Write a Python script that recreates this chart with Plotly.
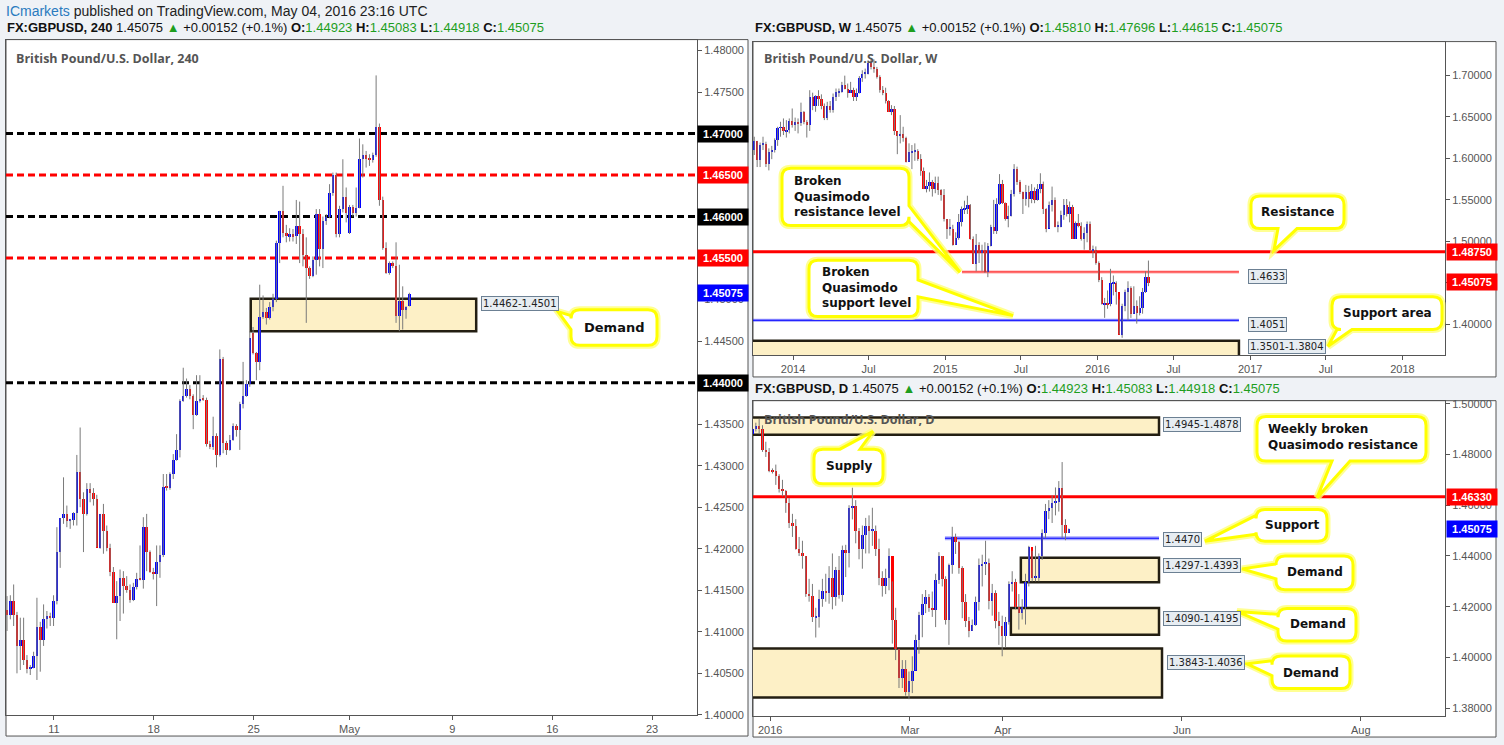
import pandas as pd
import plotly.graph_objects as go

W, H = 1504, 745
def px(x): return x / W
def py(y): return 1 - y / H

# ---------------- 4H data ----------------
h4_open = [1.4127,1.4121,1.4137,1.4121,1.4083,1.4091,1.4067,1.4056,1.4057,1.4071,
           1.4106,1.4091,1.4116,1.4120,1.4117,1.4138,1.4197,1.4237,1.4242,1.4234,
           1.4235,1.4243,1.4293,1.4261,1.4242,1.4273,1.4268,1.4260,1.4202,1.4242,
           1.4222,1.4202,1.4173,1.4135,1.4144,1.4165,1.4156,1.4151,1.4139,1.4154,
           1.4164,1.4163,1.4227,1.4196,1.4173,1.4170,1.4185,1.4193,1.4275,1.4274,
           1.4290,1.4307,1.4319,1.4379,1.4384,1.4393,1.4384,1.4362,1.4379,1.4381,
           1.4380,1.4327,1.4323,1.4336,1.4313,1.4429,1.4328,1.4319,1.4332,1.4348,
           1.4343,1.4375,1.4385,1.4399,1.4460,1.4436,1.4425,1.4479,1.4485,1.4478,
           1.4491,1.4501,1.4569,1.4607,1.4581,1.4577,1.4579,1.4577,1.4589,1.4579,
           1.4554,1.4539,1.4529,1.4548,1.4604,1.4562,1.4595,1.4600,1.4629,1.4650,
           1.4579,1.4610,1.4624,1.4581,1.4612,1.4605,1.4611,1.4670,1.4675,1.4670,
           1.4669,1.4675,1.4708,1.4621,1.4563,1.4533,1.4544,1.4541,1.4481,1.4499,
           1.4488,1.44923]
h4_high = [1.4143,1.4144,1.4157,1.4124,1.4117,1.4117,1.4072,1.4060,1.4076,1.4141,
           1.4112,1.4133,1.4125,1.4123,1.4144,1.4226,1.4237,1.4286,1.4252,1.4236,
           1.4244,1.4313,1.4346,1.4268,1.4279,1.4279,1.4273,1.4265,1.4242,1.4254,
           1.4228,1.4206,1.4178,1.4161,1.4175,1.4173,1.4167,1.4157,1.4159,1.4171,
           1.4204,1.4238,1.4242,1.4198,1.4177,1.4204,1.4204,1.4290,1.4290,1.4292,
           1.4314,1.4338,1.4380,1.4418,1.4405,1.4397,1.4386,1.4409,1.4409,1.4385,
           1.4382,1.4330,1.4359,1.4339,1.4440,1.4431,1.4330,1.4337,1.4351,1.4350,
           1.4377,1.4425,1.4403,1.4462,1.4467,1.4437,1.4518,1.4505,1.4490,1.4497,
           1.4507,1.4571,1.4607,1.4637,1.4590,1.4586,1.4585,1.4620,1.4618,1.4585,
           1.4575,1.4540,1.4552,1.4609,1.4609,1.4600,1.4603,1.4639,1.4653,1.4653,
           1.4613,1.4669,1.4635,1.4614,1.4614,1.4635,1.4694,1.4687,1.4679,1.4675,
           1.4677,1.4770,1.4712,1.4624,1.4569,1.4546,1.4546,1.4569,1.4542,1.4516,
           1.4492,1.45083]
h4_low = [1.4101,1.4115,1.4107,1.4050,1.4054,1.4060,1.4050,1.4048,1.4056,1.4042,
          1.4052,1.4083,1.4104,1.4107,1.4107,1.4133,1.4177,1.4230,1.4226,1.4224,
          1.4228,1.4228,1.4250,1.4196,1.4240,1.4256,1.4252,1.4202,1.4200,1.4194,
          1.4197,1.4167,1.4135,1.4091,1.4113,1.4122,1.4147,1.4135,1.4137,1.4151,
          1.4162,1.4152,1.4173,1.4171,1.4163,1.4131,1.4165,1.4190,1.4270,1.4271,
          1.4284,1.4306,1.4310,1.4377,1.4382,1.4380,1.4344,1.4360,1.4376,1.4378,
          1.4323,1.4320,1.4319,1.4298,1.4311,1.4315,1.4313,1.4318,1.4330,1.4335,
          1.4319,1.4369,1.4383,1.4395,1.4434,1.4403,1.4415,1.4477,1.4470,1.4476,
          1.4486,1.4497,1.4544,1.4575,1.4569,1.4570,1.4570,1.4567,1.4544,1.4540,
          1.4472,1.4525,1.4527,1.4530,1.4540,1.4538,1.4590,1.4598,1.4625,1.4575,
          1.4575,1.4605,1.4593,1.4579,1.4600,1.4600,1.4610,1.4647,1.4659,1.4661,
          1.4665,1.4672,1.4613,1.4560,1.4531,1.4530,1.4538,1.4472,1.4462,1.4464,
          1.4477,1.44918]
h4_close = [1.4121,1.4137,1.4121,1.4083,1.4091,1.4067,1.4056,1.4057,1.4071,1.4106,
            1.4091,1.4116,1.4120,1.4117,1.4138,1.4197,1.4237,1.4242,1.4234,1.4235,
            1.4243,1.4293,1.4261,1.4242,1.4273,1.4268,1.4260,1.4202,1.4242,1.4222,
            1.4202,1.4173,1.4135,1.4144,1.4165,1.4156,1.4151,1.4139,1.4154,1.4164,
            1.4163,1.4227,1.4196,1.4173,1.4170,1.4185,1.4193,1.4275,1.4274,1.4290,
            1.4307,1.4319,1.4379,1.4384,1.4393,1.4384,1.4362,1.4379,1.4380,1.4380,
            1.4327,1.4323,1.4336,1.4313,1.4429,1.4328,1.4319,1.4332,1.4348,1.4343,
            1.4375,1.4385,1.4399,1.4454,1.4436,1.4425,1.4479,1.4485,1.4478,1.4491,
            1.4501,1.4569,1.4607,1.4581,1.4577,1.4579,1.4577,1.4589,1.4579,1.4554,
            1.4539,1.4529,1.4548,1.4604,1.4562,1.4595,1.4600,1.4629,1.4650,1.4579,
            1.4610,1.4624,1.4605,1.4612,1.4605,1.4611,1.4670,1.4675,1.4670,1.4669,
            1.4675,1.4708,1.4621,1.4563,1.4533,1.4544,1.4541,1.4481,1.4499,1.4488,
            1.4492,1.45075]
h4_ticktext = ["11", "18", "25", "May", "9", "16", "23"]
h4_tickpos = [14.1, 44.1, 74.2, 103.0, 133.9, 164.0, 194.0]

# ---------------- Weekly data ----------------
wk_start = "2013-09-30"
wk_first_open = 1.6100
wk_close = [1.6210,1.5980,1.6170,1.6180,1.5940,1.6080,1.6110,1.6220,1.6370,1.6380,1.6330,1.6340,1.6450,1.6410,
            1.6440,1.6430,1.6560,1.6440,1.6410,1.6740,1.6640,1.6750,1.6720,1.6630,1.6490,1.6630,1.6590,
            1.6740,1.6800,1.6800,1.6890,1.6840,1.6790,1.6830,1.6740,1.6790,1.6970,1.7020,1.7020,1.7150,
            1.7110,1.7080,1.6980,1.6830,1.6790,1.6690,1.6560,1.6600,1.6330,1.6270,1.6300,1.6250,1.5960,
            1.6080,1.6090,1.6090,1.6000,1.5850,1.5640,1.5670,1.5720,1.5630,1.5710,1.5620,1.5560,1.5270,
            1.5160,1.5160,1.4960,1.5050,1.5240,1.5390,1.5400,1.5440,1.5040,1.4730,1.4960,1.4860,1.4900,
            1.4640,1.4950,1.5180,1.5130,1.5460,1.5700,1.5470,1.5280,1.5310,1.5570,1.5880,1.5720,1.5600,
            1.5510,1.5600,1.5510,1.5610,1.5500,1.5640,1.5700,1.5400,1.5150,1.5440,1.5500,1.5180,1.5180,
            1.5320,1.5440,1.5330,1.5420,1.5040,1.5230,1.5190,1.5030,1.5110,1.5210,1.4900,1.4900,1.4740,
            1.4540,1.4250,1.4260,1.4250,1.4500,1.4500,1.4400,1.3880,1.4230,1.4400,1.4450,1.4130,1.4230,
            1.4140,1.4200,1.4400,1.4581,1.45075]
wk_high = [1.6260,1.6210,1.6190,1.6260,1.6200,1.6120,1.6150,1.6240,1.6380,1.6440,1.6480,1.6460,1.6480,1.6600,
           1.6490,1.6480,1.6670,1.6570,1.6460,1.6820,1.6790,1.6760,1.6820,1.6770,1.6660,1.6680,1.6690,
           1.6780,1.6840,1.6840,1.6920,1.6995,1.6900,1.6920,1.6850,1.6840,1.6990,1.7060,1.7080,1.7180,
           1.7190,1.7190,1.7100,1.7000,1.6870,1.6850,1.6700,1.6640,1.6630,1.6320,1.6520,1.6380,1.6260,
           1.6180,1.6160,1.6180,1.6110,1.6050,1.5890,1.5740,1.5830,1.5740,1.5780,1.5780,1.5630,1.5630,
           1.5270,1.5270,1.5200,1.5110,1.5330,1.5420,1.5490,1.5550,1.5450,1.5060,1.5090,1.4990,1.4960,
           1.4990,1.4980,1.5200,1.5500,1.5520,1.5810,1.5740,1.5470,1.5430,1.5620,1.5930,1.5900,1.5740,
           1.5600,1.5680,1.5670,1.5690,1.5650,1.5690,1.5820,1.5720,1.5400,1.5480,1.5660,1.5530,1.5240,
           1.5370,1.5510,1.5510,1.5480,1.5440,1.5240,1.5330,1.5230,1.5170,1.5240,1.5240,1.4950,1.4940,
           1.4760,1.4570,1.4320,1.4410,1.4670,1.4590,1.4520,1.4300,1.4250,1.4420,1.4520,1.4460,1.4460,
           1.4290,1.4340,1.4440,1.4640,1.47696]
wk_low = [1.6040,1.5895,1.5895,1.6100,1.5895,1.5855,1.5990,1.6070,1.6150,1.6260,1.6280,1.6250,1.6300,1.6370,
          1.6330,1.6300,1.6390,1.6410,1.6250,1.6330,1.6580,1.6560,1.6630,1.6590,1.6460,1.6460,1.6550,
          1.6550,1.6690,1.6740,1.6790,1.6830,1.6730,1.6790,1.6690,1.6690,1.6780,1.6920,1.6960,1.7010,
          1.7070,1.7030,1.6960,1.6790,1.6760,1.6660,1.6560,1.6520,1.6280,1.6050,1.6180,1.6200,1.5950,
          1.5960,1.5870,1.5970,1.5970,1.5790,1.5630,1.5590,1.5600,1.5540,1.5580,1.5560,1.5490,1.5240,
          1.5030,1.5070,1.4950,1.4960,1.5020,1.5180,1.5330,1.5330,1.5020,1.4730,1.4640,1.4740,1.4640,
          1.4620,1.4570,1.4940,1.5090,1.5090,1.5440,1.5450,1.5250,1.5170,1.5300,1.5540,1.5680,1.5570,
          1.5330,1.5430,1.5410,1.5460,1.5460,1.5490,1.5580,1.5330,1.5110,1.5160,1.5360,1.5170,1.5110,
          1.5170,1.5260,1.5300,1.5230,1.5030,1.5030,1.5170,1.5010,1.4900,1.4990,1.4880,1.4800,1.4720,
          1.4510,1.4240,1.4080,1.4190,1.4220,1.4350,1.4240,1.3880,1.3840,1.4160,1.4050,1.4080,1.4130,
          1.4010,1.4110,1.4130,1.4380,1.44615]
wk_tickdates = ["2014-01-01", "2014-07-01", "2015-01-01", "2015-07-01", "2016-01-01",
                "2016-07-01", "2017-01-01", "2017-07-01", "2018-01-01"]
wk_ticktext = ["2014", "Jul", "2015", "Jul", "2016", "Jul", "2017", "Jul", "2018"]

# ---------------- Daily data ----------------
d_first_open = 1.4880
d_close = [1.4900,1.4912,1.4900,1.4820,1.4810,1.4737,1.4735,1.4717,1.4664,1.4659,
           1.4611,1.4530,1.4520,1.4430,1.4413,1.4400,1.4250,1.4245,1.4160,1.4160,
           1.4230,1.4265,1.4255,1.4315,1.4240,1.4345,1.4247,1.4425,1.4412,1.4590,
           1.4600,1.4500,1.4430,1.4484,1.4520,1.4500,1.4500,1.4430,1.4313,1.4285,
           1.4313,1.4400,1.4150,1.4033,1.3922,1.3957,1.3864,1.3909,1.3948,1.4072,
           1.4169,1.4214,1.4240,1.4195,1.4190,1.4305,1.4400,1.4310,1.4150,1.4365,
           1.4477,1.4455,1.4355,1.4220,1.4145,1.4105,1.4130,1.4220,1.4365,1.4370,
           1.4375,1.4225,1.4255,1.4145,1.4125,1.4085,1.4140,1.4290,1.4300,1.4200,
           1.4175,1.4200,1.4300,1.4435,1.4315,1.4315,1.4400,1.4490,1.4580,1.4590,
           1.4610,1.4615,1.4670,1.4525,1.44923,1.45075]
d_high = [1.4925,1.4925,1.4940,1.4915,1.4850,1.4825,1.4745,1.4760,1.4722,1.4700,
          1.4660,1.4628,1.4566,1.4545,1.4475,1.4460,1.4400,1.4310,1.4290,1.4196,
          1.4267,1.4310,1.4330,1.4360,1.4410,1.4357,1.4400,1.4441,1.4444,1.4600,
          1.4669,1.4620,1.4510,1.4520,1.4550,1.4560,1.4590,1.4520,1.4468,1.4340,
          1.4350,1.4430,1.4300,1.4196,1.4035,1.3990,1.3990,1.3945,1.4005,1.4090,
          1.4180,1.4250,1.4266,1.4250,1.4260,1.4330,1.4415,1.4400,1.4320,1.4370,
          1.4515,1.4488,1.4460,1.4360,1.4250,1.4160,1.4150,1.4240,1.4390,1.4405,
          1.4460,1.4390,1.4290,1.4265,1.4180,1.4165,1.4160,1.4300,1.4340,1.4310,
          1.4250,1.4230,1.4330,1.4440,1.4420,1.4440,1.4410,1.4505,1.4605,1.4620,
          1.4640,1.4670,1.4695,1.4770,1.4545,1.45083]
d_low = [1.4870,1.4890,1.4880,1.4810,1.4790,1.4730,1.4725,1.4680,1.4650,1.4635,
         1.4570,1.4510,1.4475,1.4425,1.4400,1.4350,1.4239,1.4220,1.4140,1.4079,
         1.4118,1.4200,1.4220,1.4212,1.4190,1.4204,1.4232,1.4220,1.4317,1.4355,
         1.4544,1.4450,1.4387,1.4350,1.4410,1.4410,1.4440,1.4400,1.4285,1.4240,
         1.4250,1.4265,1.4055,1.3990,1.3880,1.3880,1.3850,1.3836,1.3860,1.3950,
         1.4015,1.4080,1.4175,1.4180,1.4160,1.4120,1.4290,1.4280,1.4130,1.4050,
         1.4330,1.4408,1.4330,1.4155,1.4120,1.4080,1.4105,1.4125,1.4185,1.4280,
         1.4325,1.4190,1.4165,1.4115,1.4050,1.4005,1.4040,1.4130,1.4260,1.4190,
         1.4110,1.4150,1.4130,1.4280,1.4300,1.4300,1.4300,1.4385,1.4470,1.4545,
         1.4530,1.4560,1.4575,1.4470,1.4462,1.44918]
d_ticktext = ["2016", "Mar", "Apr", "Jun", "Aug"]
d_tickpos = [5.3, 47.3, 75.2, 129.0, 182.7]

BLUE = "#0000ff"
RED = "#ff0000"
WICK = "#7a7a7a"
GREEN = "#1e9e1e"
BG = "#eff2f6"


def candle_traces(xs, o, h, l, c, width, xa, ya, minh):
    wx, wy = [], []
    for x, hi, lo in zip(xs, h, l):
        wx += [x, x, None]
        wy += [lo, hi, None]
    colors = [BLUE if cc >= oo else RED for oo, cc in zip(o, c)]
    base = [min(oo, cc) for oo, cc in zip(o, c)]
    size = [max(abs(cc - oo), minh) for oo, cc in zip(o, c)]
    return [
        go.Scatter(x=wx, y=wy, mode="lines", line=dict(color=WICK, width=1),
                   xaxis=xa, yaxis=ya, hoverinfo="skip", showlegend=False),
        go.Bar(x=xs, y=size, base=base, width=width, marker=dict(color=colors, line=dict(width=0)),
               xaxis=xa, yaxis=ya, hoverinfo="skip", showlegend=False),
    ]


fig = go.Figure()

h4_x = list(range(len(h4_close)))
for t in candle_traces(h4_x, h4_open, h4_high, h4_low, h4_close, 0.75, "x", "y", 0.00012):
    fig.add_trace(t)

wk_dates = [d.strftime("%Y-%m-%d") for d in pd.date_range(wk_start, periods=len(wk_close), freq="7D")]
wk_open = [wk_first_open] + wk_close[:-1]
for t in candle_traces(wk_dates, wk_open, wk_high, wk_low, wk_close, 5.5 * 86400000, "x2", "y2", 0.0012):
    fig.add_trace(t)

d_x = list(range(len(d_close)))
d_open = [d_first_open] + d_close[:-1]
for t in candle_traces(d_x, d_open, d_high, d_low, d_close, 0.75, "x3", "y3", 0.0004):
    fig.add_trace(t)

AX = dict(showgrid=False, zeroline=False, showline=True, mirror=True, linecolor="#555555",
          linewidth=1, ticks="outside", ticklen=4, tickcolor="#555555",
          tickfont=dict(family="Arial, Liberation Sans", size=11, color="#555555"), fixedrange=True)

fig.update_layout(
    width=W, height=H, margin=dict(l=0, r=0, t=0, b=0),
    paper_bgcolor=BG, plot_bgcolor="white", showlegend=False, hovermode=False,
    bargap=0,
    xaxis=dict(AX, domain=[px(6), px(697)], range=[-0.3, 207.5], anchor="y",
               tickmode="array", tickvals=h4_tickpos, ticktext=h4_ticktext),
    yaxis=dict(AX, domain=[py(720), py(37)], range=[1.39995, 1.48131], anchor="x", side="right",
               dtick=0.005, tick0=1.4, tickformat=".5f"),
    xaxis2=dict(AX, domain=[px(753), px(1445)], range=["2013-09-27", "2018-04-13"], anchor="y2",
                type="date", tickmode="array", tickvals=wk_tickdates, ticktext=wk_ticktext),
    yaxis2=dict(AX, domain=[py(356), py(39)], range=[1.3631, 1.7405], anchor="x2", side="right",
                dtick=0.05, tick0=1.4, tickformat=".5f"),
    xaxis3=dict(AX, domain=[px(753), px(1445)], range=[0.15, 208], anchor="y3",
                tickmode="array", tickvals=d_tickpos, ticktext=d_ticktext),
    yaxis3=dict(AX, domain=[py(721), py(402)], range=[1.37688, 1.50117], anchor="x3", side="right",
                dtick=0.02, tick0=1.38, tickformat=".5f"),
)

shapes = []
for x0, y0, x1, y1 in [(6, 37, 748, 741), (753, 39, 1496, 378), (753, 402, 1496, 742)]:
    shapes.append(dict(type="rect", xref="paper", yref="paper", x0=px(x0), x1=px(x1), y0=py(y1), y1=py(y0),
                       fillcolor="white", line=dict(color="#555555", width=1), layer="below"))

ZONE_FILL = "#fdf0c6"
ZONE_LINE = "#231e12"

shapes.append(dict(type="rect", xref="x", yref="y", x0=73.3, x1=141.1, y0=1.4462, y1=1.4501,
                   fillcolor=ZONE_FILL, line=dict(color=ZONE_LINE, width=2.5), layer="below"))
for lvl, col in [(1.47, "black"), (1.465, RED), (1.46, "black"), (1.455, RED), (1.44, "black")]:
    shapes.append(dict(type="line", xref="x domain", yref="y", x0=0, x1=1, y0=lvl, y1=lvl,
                       line=dict(color=col, width=3, dash="7px,4px"), layer="below"))

shapes.append(dict(type="rect", xref="x2", yref="y2", x0="2013-09-01", x1="2016-12-05", y0=1.3501, y1=1.3804,
                   fillcolor=ZONE_FILL, line=dict(color=ZONE_LINE, width=2.5), layer="below"))
shapes.append(dict(type="line", xref="x2 domain", yref="y2", x0=0, x1=1, y0=1.4875, y1=1.4875,
                   line=dict(color=RED, width=3), layer="below"))
for w, col in [(3, "rgba(255,60,60,0.45)"), (1, "#ff2020")]:
    shapes.append(dict(type="line", xref="x2", yref="y2", x0="2015-02-10", x1="2016-12-05", y0=1.4633, y1=1.4633,
                       line=dict(color=col, width=w), layer="below"))
for w, col in [(3, "rgba(40,40,255,0.45)"), (1, BLUE)]:
    shapes.append(dict(type="line", xref="x2", yref="y2", x0="2013-09-01", x1="2016-12-05", y0=1.4051, y1=1.4051,
                       line=dict(color=col, width=w), layer="below"))

for x0, x1, lo, hi in [(-2, 122.1, 1.4878, 1.4945), (80.6, 122.1, 1.4297, 1.4393),
                       (77.6, 122.1, 1.4090, 1.4195), (-2, 123.0, 1.3843, 1.4036)]:
    shapes.append(dict(type="rect", xref="x3", yref="y3", x0=x0, x1=x1, y0=lo, y1=hi,
                       fillcolor=ZONE_FILL, line=dict(color=ZONE_LINE, width=2.5), layer="below"))
shapes.append(dict(type="line", xref="x3 domain", yref="y3", x0=0, x1=1, y0=1.4633, y1=1.4633,
                   line=dict(color=RED, width=3), layer="below"))
for w, col in [(4, "rgba(60,60,255,0.45)"), (1, BLUE)]:
    shapes.append(dict(type="line", xref="x3", yref="y3", x0=57.8, x1=122.1, y0=1.4470, y1=1.4470,
                       line=dict(color=col, width=w), layer="below"))


def P(x, y):
    return f"{px(x):.5f},{py(y):.5f}"


def callout_path(x0, y0, x1, y1, side, a, b, tip, r=9):
    s = "M" + P(x0 + r, y0)
    if side == "top":
        s += " L" + P(a, y0) + " L" + P(*tip) + " L" + P(b, y0)
    s += " L" + P(x1 - r, y0) + " Q" + P(x1, y0) + " " + P(x1, y0 + r)
    if side == "right":
        s += " L" + P(x1, a) + " L" + P(*tip) + " L" + P(x1, b)
    s += " L" + P(x1, y1 - r) + " Q" + P(x1, y1) + " " + P(x1 - r, y1)
    if side == "bottom":
        s += " L" + P(b, y1) + " L" + P(*tip) + " L" + P(a, y1)
    s += " L" + P(x0 + r, y1) + " Q" + P(x0, y1) + " " + P(x0, y1 - r)
    if side == "left":
        s += " L" + P(x0, b) + " L" + P(*tip) + " L" + P(x0, a)
    s += " L" + P(x0, y0 + r) + " Q" + P(x0, y0) + " " + P(x0 + r, y0) + " Z"
    return s


callouts = [
    ((571, 310, 657, 346), "left", 316, 330, (558, 312)),
    ((782, 167, 909, 225), "right", 205, 221, (960, 272)),
    ((809, 260, 918, 317), "right", 280, 297, (1013, 316)),
    ((1251, 195, 1344, 228), "bottom", 1278, 1297, (1274, 250)),
    ((1332, 297, 1442, 330), "bottom", 1337, 1352, (1328, 347)),
    ((814, 451, 883, 486), "top", 840, 860, (873, 433)),
    ((1257, 418, 1426, 463), "bottom", 1332, 1350, (1317, 500)),
    ((1256, 512, 1327, 544), "left", 518, 537, (1205, 544)),
    ((1276, 559, 1353, 593), "left", 567, 582, (1242, 572)),
    ((1278, 612, 1356, 645), "left", 618, 633, (1237, 615)),
    ((1272, 660, 1350, 693), "left", 665, 680, (1247, 668)),
]
for (x0, y0, x1, y1), side, a, b, tip in callouts:
    path = callout_path(x0, y0, x1, y1, side, a, b, tip)
    shapes.append(dict(type="path", xref="paper", yref="paper", path=path, fillcolor="white",
                       line=dict(color="rgba(255,255,120,0.8)", width=7), layer="above"))
    shapes.append(dict(type="path", xref="paper", yref="paper", path=path, fillcolor="white",
                       line=dict(color="#ffff00", width=3), layer="above"))

fig.update_layout(shapes=shapes)

ann = []
CALL_L = dict(family="DejaVu Sans", size=13, color="#111111")
CALL_R = dict(family="DejaVu Sans", size=12, color="#111111")


def text_at(x, y, s, anchor="center", font=CALL_R):
    ann.append(dict(xref="paper", yref="paper", x=px(x), y=py(y), text=f"<b>{s}</b>", showarrow=False,
                    xanchor=anchor, yanchor="middle", align="left", font=font))


text_at(614, 328, "Demand", font=CALL_L)
text_at(792, 196, "Broken<br>Quasimodo<br>resistance level", "left")
text_at(820, 288, "Broken<br>Quasimodo<br>support level", "left")
text_at(1297, 211, "Resistance")
text_at(1387, 313, "Support area")
text_at(849, 468, "Supply")
text_at(1266, 439, "Weekly broken<br>Quasimodo resistance", "left")
text_at(1292, 528, "Support")
text_at(1315, 575, "Demand")
text_at(1318, 628, "Demand")
text_at(1311, 677, "Demand")

for x, y, s in [(481, 304, "1.4462-1.4501"), (1248, 276, "1.4633"), (1248, 325, "1.4051"),
                (1248, 347, "1.3501-1.3804"), (1163, 426, "1.4945-1.4878"), (1163, 542, "1.4470"),
                (1163, 569, "1.4297-1.4393"), (1163, 622, "1.4090-1.4195"), (1167, 667, "1.3843-1.4036")]:
    ann.append(dict(xref="paper", yref="paper", x=px(x), y=py(y), text=s, showarrow=False,
                    xanchor="left", yanchor="middle", bgcolor="#e7edf2", bordercolor="#6c8093",
                    borderwidth=1, borderpad=1, font=dict(family="DejaVu Sans", size=10, color="#222222")))

for xa_px, yref, val, bg in [(697, "y", 1.47, "black"), (697, "y", 1.465, RED), (697, "y", 1.46, "black"),
                             (697, "y", 1.455, RED), (697, "y", 1.45075, BLUE), (697, "y", 1.44, "black"),
                             (1446, "y2", 1.4875, RED), (1446, "y2", 1.45075, RED),
                             (1446, "y3", 1.4633, RED), (1446, "y3", 1.45075, BLUE)]:
    ann.append(dict(xref="paper", yref=yref, x=px(xa_px), y=val, text=f"<b>{val:.5f}</b>", showarrow=False,
                    xanchor="left", yanchor="middle", bgcolor=bg, width=48, height=14, align="center",
                    font=dict(family="Arial, Liberation Sans", size=11, color="white")))

TITLE = dict(family="Open Sans, Liberation Sans", size=12.5, color="#555555")
for x, y, s in [(14, 56, "British Pound/U.S. Dollar, 240"),
                (762, 56, "British Pound/U.S. Dollar, W"),
                (762, 421, "British Pound/U.S. Dollar, D")]:
    ann.append(dict(xref="paper", yref="paper", x=px(x), y=py(y), text=f"<b>{s}</b>", showarrow=False,
                    xanchor="left", yanchor="middle", font=TITLE))


def header(label, o, h, l, c):
    g = f"<span style='color:{GREEN}'>"
    return (f"<b>FX:GBPUSD, {label}</b> 1.45075 {g}▲</span> +0.00152 (+0.1%) "
            f"<b>O:</b>{g}{o}</span> <b>H:</b>{g}{h}</span> <b>L:</b>{g}{l}</span> <b>C:</b>{g}{c}</span>")


HDR = dict(family="Liberation Sans, Arial", size=13, color="#111111")
for x, y, s in [(5, 25, header("240", "1.44923", "1.45083", "1.44918", "1.45075")),
                (753, 25, header("W", "1.45810", "1.47696", "1.44615", "1.45075")),
                (753, 390, header("D", "1.44923", "1.45083", "1.44918", "1.45075"))]:
    ann.append(dict(xref="paper", yref="paper", x=px(x), y=py(y), text=s, showarrow=False,
                    xanchor="left", yanchor="middle", font=HDR))
ann.append(dict(xref="paper", yref="paper", x=px(4), y=py(8),
                text="<span style='color:#2a7bbf'>ICmarkets</span> published on TradingView.com, May 04, 2016 23:16 UTC",
                showarrow=False, xanchor="left", yanchor="middle",
                font=dict(family="Liberation Sans, Arial", size=14, color="#222222")))

fig.update_layout(annotations=ann)
fig.write_html("out.html", config={"displayModeBar": False},
               post_script="document.body.style.margin='0px';document.body.style.background='" + BG + "';")
